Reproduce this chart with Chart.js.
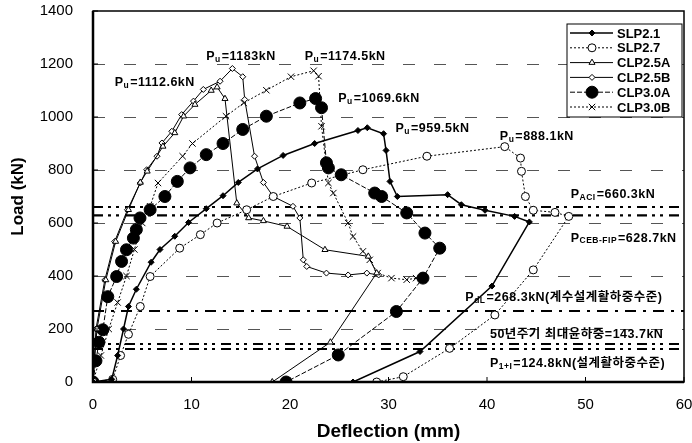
<!DOCTYPE html>
<html>
<head>
<meta charset="utf-8">
<script src="https://cdn.jsdelivr.net/npm/chart.js"></script>
<style>
  html, body { margin: 0; padding: 0; background: #fff; }
</style>
</head>
<body>
<canvas id="chart" width="692" height="443"></canvas>
<script>
// --- data ---
const xTickLabels = [0, 10, 20, 30, 40, 50, 60];
const yTickLabels = [0, 200, 400, 600, 800, 1000, 1200, 1400];

const seriesNames = ["SLP2.1", "SLP2.7", "CLP2.5A", "CLP2.5B", "CLP3.0A", "CLP3.0B"];

const slp21X = [0, 1.9, 2.5, 3.1, 3.6, 4.4, 5.9, 6.8, 8.3, 9.7, 11.5, 13.2, 14.75, 16.7, 19.3, 22.5, 26.9, 27.85, 29.5, 29.75, 30.15, 30.9, 36.0, 37.4, 39.8, 42.8, 44.3, 40.5, 33.2, 26.4];
const slp21Y = [0, 10, 100, 200, 285, 350, 452, 500, 550, 602, 654, 703, 753, 804, 855, 900, 949, 959.5, 937, 874, 757, 700, 707, 669, 648, 625, 604, 362, 115, 0];

const slp27X = [0, 2.0, 2.8, 3.6, 4.8, 5.8, 8.8, 10.9, 12.6, 15.6, 18.3, 22.2, 27.4, 33.9, 41.8, 43.4, 43.5, 43.9, 44.7, 46.9, 48.3, 44.7, 40.8, 36.2, 31.5, 28.8];
const slp27Y = [0, 10, 100, 180, 285, 398, 505, 556, 600, 650, 700, 751, 801, 852, 888.1, 845, 795, 700, 648, 640, 625, 423, 253, 127, 20, 0];

const clp25aX = [0, 0.4, 1.3, 2.3, 3.6, 4.8, 5.5, 7.1, 8.3, 9.2, 10.35, 12.0, 12.6, 13.4, 14.6, 15.8, 17.3, 19.7, 23.55, 27.95, 28.8, 24.1, 18.2];
const clp25aY = [0, 200, 385, 530, 650, 753, 795, 889, 940, 1003, 1047, 1100, 1112.6, 1069, 675, 619, 608, 587, 499, 474, 411, 150, 0];

const clp25bX = [0, 0.3, 1.2, 2.2, 3.5, 4.8, 5.45, 6.5, 7.0, 8.0, 9.0, 10.2, 11.2, 12.9, 14.15, 15.2, 15.4, 16.4, 17.3, 18.3, 20.3, 21.0, 21.35, 21.7, 23.7, 25.9, 27.8, 29.0];
const clp25bY = [0, 200, 385, 530, 650, 751, 801, 852, 902, 946, 1009, 1060, 1104, 1135, 1183, 1152, 1066, 852, 753, 700, 663, 619, 461, 436, 411, 404, 411, 404];

const clp30aX = [0, 0.3, 0.6, 1.0, 1.5, 2.4, 2.9, 3.4, 4.1, 4.4, 4.77, 5.8, 7.3, 8.56, 9.85, 11.5, 13.2, 15.2, 17.6, 21.0, 22.6, 23.2, 23.7, 23.9, 25.2, 28.6, 29.3, 31.85, 33.7, 35.2, 33.5, 30.8, 24.9, 19.6];
const clp30aY = [0, 80, 150, 197, 322, 398, 455, 499, 543, 575, 619, 650, 700, 757, 808, 858, 900, 953, 1003, 1053, 1069.6, 1035, 827, 808, 782, 713, 700, 638, 562, 505, 392, 266, 102, 0];

const clp30bX = [0, 0.8, 1.6, 2.5, 3.4, 4.2, 5.0, 5.8, 6.6, 9.1, 10.1, 13.5, 15.3, 17.6, 20.1, 22.4, 22.9, 23.2, 23.9, 24.4, 25.9, 26.4, 27.4, 28.1, 28.9, 30.3, 31.85, 32.8];
const clp30bY = [0, 100, 200, 300, 400, 500, 600, 663, 751, 852, 900, 1003, 1053, 1101, 1152, 1174.5, 1154, 965, 751, 713, 600, 549, 493, 461, 411, 392, 386, 392];

// horizontal design load levels (kN)
const refLoads = [660.3, 628.7, 268.3, 143.7, 124.8];

// in-plot notes: text, x (mm), y (kN) of the left / middle of the text
const noteTexts = [
  "P_{u}=1112.6kN",
  "P_{u}=1183kN",
  "P_{u}=1174.5kN",
  "P_{u}=1069.6kN",
  "P_{u}=959.5kN",
  "P_{u}=888.1kN",
  "P_{ACI}=660.3kN",
  "P_{CEB-FIP}=628.7kN",
  "P_{dL}=268.3kN(계수설계활하중수준)",
  "50년주기 최대윤하중=143.7kN",
  "P_{1+I}=124.8kN(설계활하중수준)"
];
const noteX = [2.2, 11.5, 21.5, 24.9, 30.7, 41.3, 48.5, 48.5, 37.8, 40.3, 40.3];
const noteY = [1130, 1228, 1228, 1070, 955, 925, 707, 543, 320, 178, 71];

// --- helpers ---
const FONT = '"Liberation Sans", Arial, "Noto Sans CJK KR", sans-serif';

function zip(xs, ys) {
  return xs.map((x, i) => ({ x: x, y: ys[i] }));
}

const seriesData = [
  zip(slp21X, slp21Y),
  zip(slp27X, slp27Y),
  zip(clp25aX, clp25aY),
  zip(clp25bX, clp25bY),
  zip(clp30aX, clp30aY),
  zip(clp30bX, clp30bY)
];

const seriesStyles = [
  { borderWidth: 1.5, borderDash: [], pointStyle: "rectRot", pointRadius: 3, fill: "#000" },
  { borderWidth: 1, borderDash: [2, 2], pointStyle: "circle", pointRadius: 4, fill: "#fff" },
  { borderWidth: 1, borderDash: [], pointStyle: "triangle", pointRadius: 3.5, fill: "#fff" },
  { borderWidth: 1, borderDash: [], pointStyle: "rectRot", pointRadius: 3, fill: "#fff" },
  { borderWidth: 1, borderDash: [5, 2], pointStyle: "circle", pointRadius: 6, fill: "#000" },
  { borderWidth: 1, borderDash: [2, 2], pointStyle: "crossRot", pointRadius: 4.5, fill: "#000" }
];

const refStyles = [
  { width: 2.2, dash: [10, 5, 3, 5, 3, 6] },
  { width: 2.2, dash: [10, 5, 3, 5, 3, 6] },
  { width: 2, dash: [11, 7, 3, 7] },
  { width: 2, dash: [10, 5, 3, 5, 3, 6] },
  { width: 2, dash: [10, 5, 3, 5, 3, 6] }
];

const datasets = seriesData.map((d, i) => ({
  label: seriesNames[i],
  data: d,
  showLine: true,
  borderColor: "#000",
  borderWidth: seriesStyles[i].borderWidth,
  borderDash: seriesStyles[i].borderDash,
  pointStyle: seriesStyles[i].pointStyle,
  pointRadius: seriesStyles[i].pointRadius,
  pointBackgroundColor: seriesStyles[i].fill,
  pointBorderColor: "#000",
  pointBorderWidth: 1,
  tension: 0
}));

refLoads.forEach((load, i) => {
  datasets.push({
    label: "ref" + i,
    data: [{ x: 0, y: load }, { x: 60, y: load }],
    showLine: true,
    borderColor: "#000",
    borderWidth: refStyles[i].width,
    borderDash: refStyles[i].dash,
    pointRadius: 0
  });
});

function drawRich(ctx, str, x, y) {
  const parts = str.split(/(_\{[^}]*\})/).filter(Boolean);
  let cx = x;
  parts.forEach(p => {
    if (p.startsWith("_{")) {
      const t = p.slice(2, -1);
      ctx.font = "bold 8.5px " + FONT;
      ctx.fillText(t, cx, y + 3);
      cx += ctx.measureText(t).width + 1;
    } else {
      ctx.font = "bold 12.5px " + FONT;
      ctx.fillText(p, cx, y);
      cx += ctx.measureText(p).width;
    }
  });
}

// dashed horizontal grid under the data
const gridLines = {
  id: "gridLines",
  beforeDatasetsDraw(chart) {
    const ctx = chart.ctx;
    const a = chart.chartArea;
    const ys = chart.scales.y;
    ctx.save();
    ctx.strokeStyle = "#555";
    ctx.lineWidth = 1;
    ctx.setLineDash([12, 19]);
    yTickLabels.forEach(v => {
      if (v === 0 || v === 1400) return;
      const py = Math.round(ys.getPixelForValue(v)) + 0.5;
      ctx.beginPath();
      ctx.moveTo(a.left, py);
      ctx.lineTo(a.right, py);
      ctx.stroke();
    });
    ctx.restore();
  }
};

// frame, inner ticks, notes and legend
const extras = {
  id: "extras",
  afterDraw(chart) {
    const ctx = chart.ctx;
    const a = chart.chartArea;
    const xs = chart.scales.x, ys = chart.scales.y;
    ctx.save();
    ctx.setLineDash([]);
    ctx.strokeStyle = "#000";

    // frame
    ctx.lineWidth = 1.5;
    ctx.strokeRect(a.left, a.top, a.right - a.left, a.bottom - a.top);
    ctx.lineWidth = 2.5;
    ctx.beginPath();
    ctx.moveTo(a.left, a.top);
    ctx.lineTo(a.left, a.bottom);
    ctx.lineTo(a.right, a.bottom);
    ctx.stroke();

    // inner tick marks
    ctx.lineWidth = 1;
    xTickLabels.forEach(v => {
      const px = xs.getPixelForValue(v);
      ctx.beginPath();
      ctx.moveTo(px, a.bottom);
      ctx.lineTo(px, a.bottom - 5);
      ctx.stroke();
    });
    yTickLabels.forEach(v => {
      const py = ys.getPixelForValue(v);
      ctx.beginPath();
      ctx.moveTo(a.left, py);
      ctx.lineTo(a.left + 5, py);
      ctx.stroke();
    });

    // notes
    ctx.fillStyle = "#000";
    ctx.textBaseline = "middle";
    ctx.textAlign = "left";
    ctx.letterSpacing = "0.5px";
    noteTexts.forEach((t, i) => {
      drawRich(ctx, t, xs.getPixelForValue(noteX[i]), ys.getPixelForValue(noteY[i]));
    });
    ctx.letterSpacing = "0px";

    // legend
    const bx = 567, by = 24, bw = 115, bh = 93;
    ctx.fillStyle = "#fff";
    ctx.fillRect(bx, by, bw, bh);
    ctx.lineWidth = 1;
    ctx.strokeRect(bx, by, bw, bh);
    ctx.font = "bold 13px " + FONT;
    seriesNames.forEach((name, i) => {
      const ry = by + 9 + i * 14.8;
      const st = seriesStyles[i];
      ctx.lineWidth = st.borderWidth;
      ctx.setLineDash(st.borderDash);
      ctx.strokeStyle = "#000";
      ctx.beginPath();
      ctx.moveTo(bx + 3, ry);
      ctx.lineTo(bx + 46, ry);
      ctx.stroke();
      ctx.setLineDash([]);
      ctx.fillStyle = st.fill;
      ctx.lineWidth = 1;
      if (Chart.helpers && Chart.helpers.drawPoint) {
        Chart.helpers.drawPoint(ctx, { pointStyle: st.pointStyle, radius: st.pointRadius, rotation: 0, borderWidth: 1 }, bx + 25, ry);
      }
      ctx.fillStyle = "#000";
      ctx.fillText(name, bx + 50, ry + 1);
    });
    ctx.restore();
  }
};

new Chart(document.getElementById("chart"), {
  type: "scatter",
  data: { datasets: datasets },
  options: {
    responsive: false,
    animation: false,
    layout: { padding: 0 },
    plugins: { legend: { display: false }, tooltip: { enabled: false } },
    scales: {
      x: {
        type: "linear",
        min: 0,
        max: 60,
        ticks: { stepSize: 10, color: "#000", font: { size: 15, family: FONT }, padding: 14, callback: v => String(v) },
        grid: { display: false, drawTicks: false },
        border: { display: false },
        title: { display: true, text: "Deflection (mm)", color: "#000", font: { size: 19, weight: "bold", family: FONT }, padding: { top: 0, bottom: 0 } },
        afterFit(s) { s.height = 61; s.paddingLeft = 0; s.paddingRight = 8; }
      },
      y: {
        type: "linear",
        min: 0,
        max: 1400,
        ticks: { stepSize: 200, color: "#000", font: { size: 15, family: FONT }, padding: 20, callback: v => String(v) },
        grid: { display: false, drawTicks: false },
        border: { display: false },
        title: { display: true, text: "Load (kN)", color: "#000", font: { size: 17, weight: "bold", family: FONT }, padding: { top: 8, bottom: 0 } },
        afterFit(s) { s.width = 93; s.paddingTop = 11; s.paddingBottom = 0; }
      }
    }
  },
  plugins: [gridLines, extras]
});
</script>
</body>
</html>
